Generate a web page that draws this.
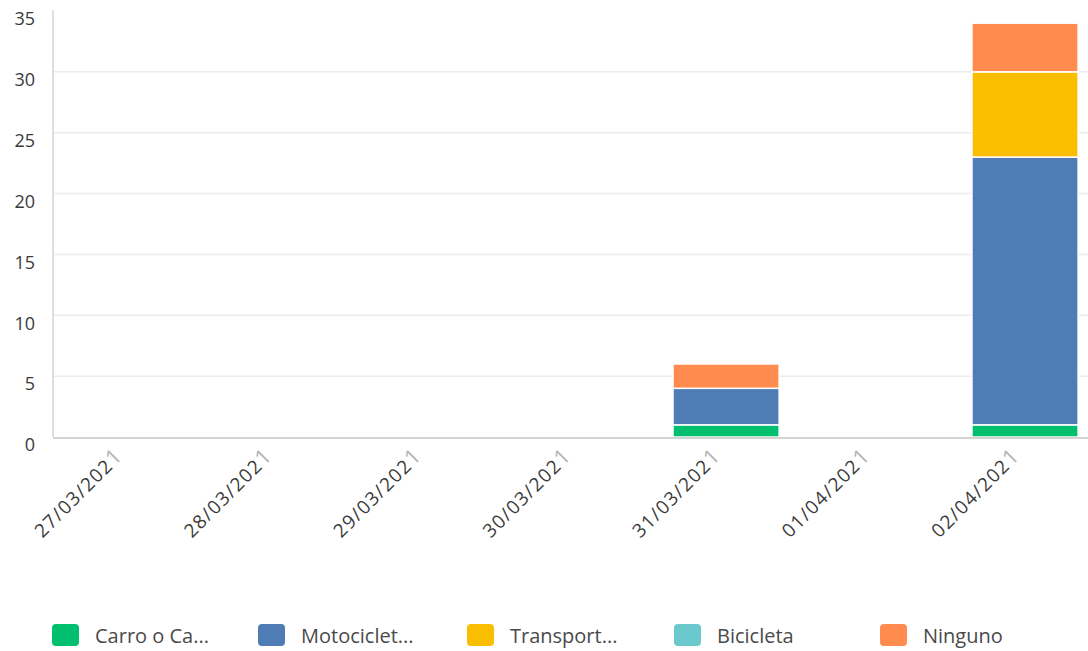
<!DOCTYPE html>
<html>
<head>
<meta charset="utf-8">
<script src="https://cdn.jsdelivr.net/npm/d3@7"></script>
<style>
  html, body { margin: 0; padding: 0; background: #fff; overflow: hidden; }
  svg { display: block; }
  text { font-family: "Open Sans", "Noto Sans", sans-serif; }
</style>
</head>
<body>
<div id="chart"></div>
<script>
// Dates on the x axis
const dates = ["27/03/2021", "28/03/2021", "29/03/2021", "30/03/2021", "31/03/2021", "01/04/2021", "02/04/2021"];

// Series (stack order bottom -> top)
const seriesNames = ["Carro o Ca...", "Motociclet...", "Transport...", "Bicicleta", "Ninguno"];
const seriesColors = ["#00bf6f", "#507cb6", "#f9be00", "#6bc8cd", "#ff8b4f"];

const carro = [0, 0, 0, 0, 1, 0, 1];
const moto = [0, 0, 0, 0, 3, 0, 22];
const transporte = [0, 0, 0, 0, 0, 0, 7];
const bicicleta = [0, 0, 0, 0, 0, 0, 0];
const ninguno = [0, 0, 0, 0, 2, 0, 4];

const yTicks = [0, 5, 10, 15, 20, 25, 30, 35];

const width = 1088;
const height = 651;
const margin = { top: 11, right: 0, bottom: 214, left: 53 };

const svg = d3
  .select("#chart")
  .append("svg")
  .attr("width", width)
  .attr("height", height);

// build rows for d3.stack
const rows = dates.map((d, i) => ({
  date: d,
  s0: carro[i],
  s1: moto[i],
  s2: transporte[i],
  s3: bicicleta[i],
  s4: ninguno[i],
}));
const keys = ["s0", "s1", "s2", "s3", "s4"];
const stacked = d3.stack().keys(keys)(rows);

const x = d3
  .scaleBand()
  .domain(dates)
  .range([margin.left, width - margin.right])
  .paddingInner(0.29)
  .paddingOuter(0.107)
  .align(0.69);

const y = d3
  .scaleLinear()
  .domain([0, 35])
  .range([height - margin.bottom, margin.top]);

// gridlines
svg
  .append("g")
  .selectAll("line")
  .data(yTicks.filter((t) => t > 0 && t < 35))
  .enter()
  .append("line")
  .attr("x1", margin.left)
  .attr("x2", width)
  .attr("y1", (d) => y(d))
  .attr("y2", (d) => y(d))
  .style("stroke", "#ececec")
  .style("stroke-width", 1.5);

// y axis line
svg
  .append("line")
  .attr("x1", margin.left)
  .attr("x2", margin.left)
  .attr("y1", y(35) - 1)
  .attr("y2", y(0))
  .style("stroke", "#d4d4d4")
  .style("stroke-width", 1.5);

// y tick labels
svg
  .append("g")
  .selectAll("text")
  .data(yTicks)
  .enter()
  .append("text")
  .attr("x", 35)
  .attr("y", (d) => y(d) + 8)
  .attr("dy", "0.35em")
  .attr("text-anchor", "end")
  .style("fill", "#3a3a3a")
  .style("font-size", "18px")
  .text((d) => d);

// bars
svg
  .append("g")
  .selectAll("g")
  .data(stacked)
  .enter()
  .append("g")
  .style("fill", (d, i) => seriesColors[i])
  .selectAll("rect")
  .data((d) => d.filter((p) => p[1] - p[0] > 0))
  .enter()
  .append("rect")
  .attr("x", (d) => x(d.data.date))
  .attr("y", (d) => y(d[1]))
  .attr("width", x.bandwidth())
  .attr("height", (d) => y(d[0]) - y(d[1]))
  .style("stroke", "#fff")
  .style("stroke-width", 1.5);

// baseline
svg
  .append("line")
  .attr("x1", margin.left)
  .attr("x2", width)
  .attr("y1", y(0) + 1)
  .attr("y2", y(0) + 1)
  .style("stroke", "#d4d4d4")
  .style("stroke-width", 2);

// x tick labels, rotated
const xl = svg
  .append("g")
  .selectAll("text")
  .data(dates)
  .enter()
  .append("text")
  .attr("transform", (d) => `translate(${x(d) + x.bandwidth() / 2 - 4},${y(0) + 20}) rotate(-45)`)
  .attr("text-anchor", "end")
  .style("fill", "#3a3a3a")
  .style("font-size", "19px")
  .style("letter-spacing", "1.3px");
xl.append("tspan").text((d) => d.slice(0, -1));
xl.append("tspan")
  .style("fill", "#b5b5b5")
  .style("font-size", "22px")
  .text((d) => d.slice(-1));

// legend
const legendX = [52, 258, 467, 674, 880];
const legend = svg
  .append("g")
  .selectAll("g")
  .data(seriesNames)
  .enter()
  .append("g")
  .attr("transform", (d, i) => `translate(${legendX[i]},624)`);

legend
  .append("rect")
  .attr("width", 27)
  .attr("height", 22)
  .attr("rx", 4)
  .style("fill", (d, i) => seriesColors[i]);

legend
  .append("text")
  .attr("x", 43)
  .attr("y", 12)
  .attr("dy", "0.35em")
  .style("fill", "#4a4a4a")
  .style("font-size", "20px")
  .text((d) => d);
</script>
</body>
</html>
